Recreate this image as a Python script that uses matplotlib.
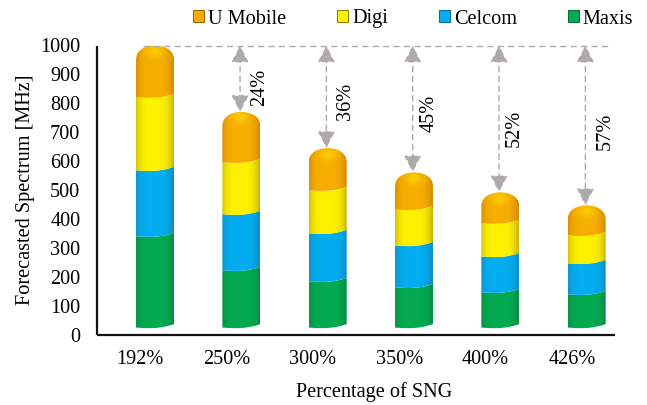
import numpy as np
import matplotlib
matplotlib.use("Agg")
import matplotlib.pyplot as plt
from matplotlib.patches import Patch, PathPatch
from matplotlib.path import Path

plt.rcParams['font.family'] = ['Liberation Serif', 'DejaVu Serif']
plt.rcParams['font.size'] = 14.6

categories = ['192%', '250%', '300%', '350%', '400%', '426%']
carriers = ['Maxis', 'Celcom', 'Digi', 'U Mobile']

floor = 24
maxis = [316, 198, 160, 139, 122, 115]
celcom = [228, 194, 166, 145, 124, 107]
digi = [253, 180, 149, 125, 115, 97]
umobile = [179, 174, 146, 128, 107, 104]

reduction = ['24%', '36%', '45%', '52%', '57%']
reference_level = 1000

# where the rotated percentages sit, next to their arrows
label_dx = [0.23, 0.22, 0.185, 0.18, 0.235]
label_y = [855, 805, 766, 714, 704]

# (middle colour, edge colour) for the fake cylinder shading
shades = {
    'Maxis': ('#03ab50', '#078f45'),
    'Celcom': ('#03aef0', '#0d8fc9'),
    'Digi': ('#fff200', '#cdbb00'),
    'U Mobile': ('#f7ae00', '#d68d00'),
}
legend_edges = {'Maxis': '#05713a', 'Celcom': '#0b6a99', 'Digi': '#8f8500', 'U Mobile': '#9a6a00'}

BAR_W = 0.44
BAR_SHIFT = 0.172
DOME_H = 52
GREY = '#aeaaaa'


def to_rgb_arr(c):
    return np.array(matplotlib.colors.to_rgb(c))


def boundary(xs, x0, y):
    # slight upward curl on the right, like the rim of a tilted cylinder
    t = (xs - x0) / BAR_W
    return y + 12 * t ** 3 - 3 * np.sin(np.pi * t)


def segment_path(x0, low, high, dome):
    xs = np.linspace(x0, x0 + BAR_W, 40)
    lower = boundary(xs, x0, low)
    if dome:
        th = np.linspace(0, np.pi, 60)
        ux = x0 + BAR_W / 2 + BAR_W / 2 * np.cos(th)
        uy = high - DOME_H + DOME_H * np.sin(th) ** 0.8
    else:
        ux = xs[::-1]
        uy = boundary(ux, x0, high)
    verts = np.vstack([np.column_stack([xs, lower]), np.column_stack([ux, uy]), [xs[0], lower[0]]])
    codes = [Path.MOVETO] + [Path.LINETO] * (len(verts) - 2) + [Path.CLOSEPOLY]
    return Path(verts, codes)


def draw_segment(ax, x0, low, high, name, dome=False):
    mid, edge = [to_rgb_arr(c) for c in shades[name]]
    top = high + 14
    bottom = low - 6
    nx, ny = 60, 80
    u = np.linspace(-1, 1, nx)
    v = np.linspace(top, bottom, ny)
    uu, vv = np.meshgrid(u, v)
    k = np.clip(np.abs(uu + 0.05) ** 3.6, 0, 1)[..., None]
    img = mid * (1 - k) + edge * k
    if dome:
        # highlight on the cap
        yc = high - 0.42 * DOME_H
        g = np.exp(-((uu / 0.42) ** 2 + ((vv - yc) / 20.0) ** 2))[..., None] * 0.6
        img = img * (1 - g) + to_rgb_arr('#ffe000') * g
    im = ax.imshow(img, extent=(x0, x0 + BAR_W, bottom, top), aspect='auto',
                   interpolation='bilinear', zorder=2)
    clip = PathPatch(segment_path(x0, low, high, dome), transform=ax.transData,
                     facecolor='none', edgecolor='none')
    ax.add_patch(clip)
    im.set_clip_path(clip)


fig = plt.figure(figsize=(6.47, 4.05), dpi=100)
ax = fig.add_axes([97 / 647, (405 - 334.5) / 405, (615 - 97) / 647, 289 / 405])

x = np.arange(len(categories))
series = [('Maxis', maxis), ('Celcom', celcom), ('Digi', digi), ('U Mobile', umobile)]

tops = []
for i in x:
    low = floor
    x0 = i + BAR_SHIFT - BAR_W / 2
    for name, vals in series:
        high = low + vals[i]
        draw_segment(ax, x0, low, high, name, dome=(name == 'U Mobile'))
        low = high
    tops.append(low)

# dashed reference at the first bar's height
ax.plot([0.033, 5.465], [reference_level, reference_level], color=GREY, lw=1,
        ls=(0, (4.5, 3)), zorder=3, clip_on=False)

for i, txt in enumerate(reduction):
    xa = x[i + 1] + BAR_SHIFT - 0.015
    ax.annotate('', xy=(xa, tops[i + 1]), xytext=(xa, reference_level),
                arrowprops=dict(arrowstyle='<|-|>,head_length=10.5,head_width=5.4', mutation_scale=1,
                                color=GREY, lw=1, ls=(0, (4, 3)), shrinkA=0, shrinkB=0),
                zorder=4, annotation_clip=False)
    ax.text(xa + label_dx[i], label_y[i], txt, rotation=90, ha='center', va='center', zorder=5)

ax.set_xlim(-0.5, 5.5)
ax.set_ylim(0, 1000)
ax.set_yticks(np.arange(0, 1001, 100))
ax.set_xticks(x)
ax.set_xticklabels(categories)
ax.tick_params(axis='both', length=0)
ax.tick_params(axis='y', pad=12)
ax.tick_params(axis='x', pad=11.5)
ax.set_xlabel('Percentage of SNG')
ax.xaxis.set_label_coords((374 - 97) / 518, -(392 - 334.5) / 289, transform=ax.transAxes)
ax.xaxis.label.set_va('center')
ax.set_ylabel('Forecasted Spectrum [MHz]')
ax.yaxis.set_label_coords((25 - 97) / 518, (334.5 - 190) / 289, transform=ax.transAxes)
ax.yaxis.label.set_va('center')

for s in ['top', 'right']:
    ax.spines[s].set_visible(False)
for s in ['left', 'bottom']:
    ax.spines[s].set_linewidth(1.6)
    ax.spines[s].set_color('#111111')
    ax.spines[s].set_capstyle('butt')

handles = [Patch(facecolor=shades[n][0], edgecolor=legend_edges[n], lw=0.8, label=n)
           for n in reversed(carriers)]
fig.legend(handles=handles, ncol=4, loc='center', bbox_to_anchor=(413 / 647, 1 - 19 / 405),
           frameon=False, handlelength=0.55, handleheight=0.55, handletextpad=0.2,
           columnspacing=2.5, borderpad=0, borderaxespad=0)

fig.savefig('out.png', dpi=100)
